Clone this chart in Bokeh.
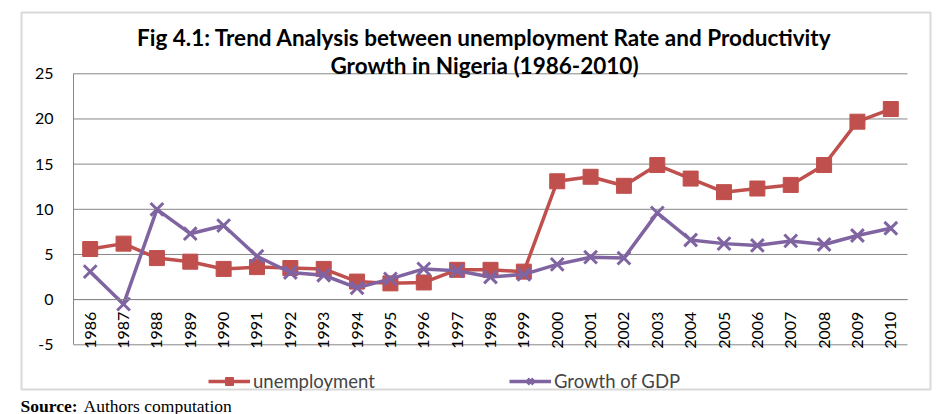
from math import pi
from bokeh.plotting import figure
from bokeh.models import (ColumnDataSource, Label, Legend, LegendItem,
                          FixedTicker, Range1d, BoxAnnotation)
from bokeh.embed import file_html
from bokeh.resources import INLINE

years = list(range(1986, 2011))
unemployment = [5.6, 6.2, 4.6, 4.2, 3.4, 3.6, 3.5, 3.4, 2.0, 1.8, 1.9, 3.3, 3.3, 3.1,
                13.1, 13.6, 12.6, 14.9, 13.4, 11.9, 12.3, 12.7, 14.9, 19.7, 21.1]
gdp_growth = [3.1, -0.5, 10.0, 7.3, 8.2, 4.8, 3.0, 2.7, 1.3, 2.3, 3.4, 3.2, 2.5, 2.8,
              3.9, 4.7, 4.6, 9.6, 6.6, 6.2, 6.0, 6.5, 6.1, 7.1, 7.9]
y_ticks = [-5, 0, 5, 10, 15, 20, 25]
y_tick_labels = {-5: "-5"}

RED = "#C0504D"
PURPLE = "#8064A2"
GRID = "#868686"
BOX = "#808080"
FONT = "Lato"

# ---- layout geometry (page pixels; Bokeh's page template has no body margin) ----
W, H = 942, 414
PX0, PY0 = 0, 0
X_FIRST_PX, X_LAST_PX = 89.7, 890.3     # centre of first / last category
Y_TOP_PX, Y_BOT_PX = 73.3, 344.3        # y = 25 and y = -5
kx = (X_LAST_PX - X_FIRST_PX) / (years[-1] - years[0])
ky = (Y_BOT_PX - Y_TOP_PX) / (y_ticks[-1] - y_ticks[0])
x_start = years[0] - (X_FIRST_PX - PX0) / kx
x_end = years[0] + (PX0 + W - X_FIRST_PX) / kx
y_end = y_ticks[-1] + (Y_TOP_PX - PY0) / ky
y_start = y_ticks[-1] - (PY0 + H - Y_TOP_PX) / ky


def X(px):
    return x_start + (px - PX0) / kx


def Y(py):
    return y_end - (py - PY0) / ky


x_lo, x_hi = years[0] - 0.5, years[-1] + 0.5

src = ColumnDataSource(dict(year=years, u=unemployment, g=gdp_growth))

p = figure(width=W, height=H, x_range=Range1d(x_start, x_end), y_range=Range1d(y_start, y_end),
           output_backend="svg", toolbar_location=None,
           min_border_left=0, min_border_right=0, min_border_top=0, min_border_bottom=0)
p.outline_line_color = None
p.background_fill_color = "white"
p.border_fill_color = "white"
p.grid.visible = False

# chart box
p.add_layout(BoxAnnotation(left=X(21), right=X(930), top=Y(12), bottom=Y(389),
                           fill_alpha=0, line_color=BOX, line_width=2))

# horizontal gridlines within the plot area
p.segment(x0=x_lo, x1=x_hi, y0=y_ticks, y1=y_ticks, line_color=GRID, line_width=1)

# y axis at left edge of the plot area
p.yaxis.fixed_location = x_lo
p.yaxis.ticker = FixedTicker(ticks=y_ticks)
p.yaxis.major_label_overrides = y_tick_labels
p.yaxis.bounds = (y_ticks[0], y_ticks[-1])
p.yaxis.axis_line_color = GRID
p.yaxis.major_tick_line_color = None
p.yaxis.major_tick_out = 0
p.yaxis.major_tick_in = 0
p.yaxis.minor_tick_line_color = None
p.yaxis.major_label_standoff = 20
p.yaxis.major_label_text_font = FONT
p.yaxis.major_label_text_font_size = "16px"
p.yaxis.major_label_text_color = "black"

# x axis crossing at 0
p.xaxis.fixed_location = 0
p.xaxis.ticker = FixedTicker(ticks=years)
p.xaxis.bounds = (x_lo, x_hi)
p.xaxis.axis_line_color = GRID
p.xaxis.major_tick_line_color = None
p.xaxis.major_tick_out = 0
p.xaxis.major_tick_in = 0
p.xaxis.minor_tick_line_color = None
p.xaxis.major_label_orientation = pi / 2
p.xaxis.major_label_standoff = 12
p.xaxis.major_label_text_font = FONT
p.xaxis.major_label_text_font_size = "16px"
p.xaxis.major_label_text_color = "black"

r1 = p.line("year", "u", source=src, line_color=RED, line_width=3.5)
m1 = p.scatter("year", "u", source=src, marker="square", size=15,
               fill_color=RED, line_color=RED)
r2 = p.line("year", "g", source=src, line_color=PURPLE, line_width=3.5)
m2 = p.scatter("year", "g", source=src, marker="x", size=18,
               line_color=PURPLE, line_width=3)

legend = Legend(items=[LegendItem(label="unemployment", renderers=[r1, m1]),
                       LegendItem(label="Growth of GDP", renderers=[r2, m2])],
                orientation="horizontal", location=(208 - PX0, PY0 + H - 392),
                glyph_width=42, glyph_height=20, label_standoff=3, spacing=134,
                padding=0, margin=0, border_line_color=None,
                background_fill_alpha=0,
                label_text_font=FONT, label_text_font_size="18.5px")
p.add_layout(legend, "center")

for txt, base in [("Fig 4.1: Trend Analysis between unemployment Rate and Productivity", 37),
                  ("Growth in Nigeria (1986-2010)", 65)]:
    p.add_layout(Label(x=X(484), y=Y(base), text=txt, text_align="center",
                       text_baseline="alphabetic",
                       text_font=FONT, text_font_style="bold", text_font_size="22.5px",
                       text_color="black"))

p.add_layout(Label(x=X(20), y=Y(405), text="Source:", text_font="Liberation Serif",
                   text_font_style="bold", text_font_size="17.5px", text_color="black",
                   text_baseline="alphabetic"))
p.add_layout(Label(x=X(83), y=Y(405), text="Authors computation",
                   text_font="Liberation Serif", text_font_size="17.5px",
                   text_color="black", text_baseline="alphabetic"))

open("out.html", "w").write(file_html(p, INLINE))
